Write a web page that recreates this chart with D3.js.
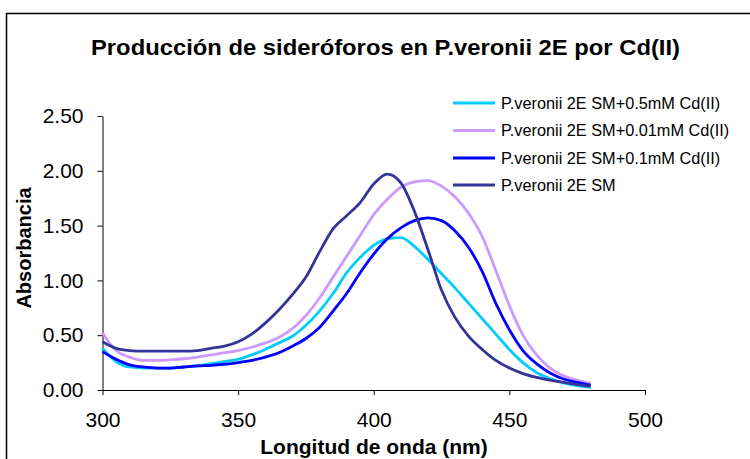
<!DOCTYPE html>
<html>
<head>
<meta charset="utf-8">
<script src="https://cdn.jsdelivr.net/npm/d3@7"></script>
<style>
  html, body { margin: 0; padding: 0; background: #fff; }
  svg { display: block; font-family: "Liberation Sans", Arial, sans-serif; }
</style>
</head>
<body>
<svg id="chart" width="750" height="459"></svg>
<script>
const wavelengths = [300,305,310,315,320,325,330,335,340,345,350,355,360,365,370,375,380,385,390,395,400,405,410,415,420,425,430,435,440,445,450,455,460,465,470,475,480];

const cd05 = [0.38,0.26,0.21,0.20,0.20,0.20,0.21,0.22,0.24,0.26,0.28,0.32,0.37,0.43,0.49,0.59,0.72,0.88,1.07,1.21,1.32,1.38,1.39,1.31,1.19,1.06,0.93,0.79,0.65,0.51,0.37,0.25,0.16,0.105,0.065,0.04,0.025];
const cd001 = [0.52,0.36,0.30,0.27,0.27,0.275,0.285,0.30,0.32,0.34,0.36,0.39,0.43,0.48,0.56,0.68,0.84,1.03,1.22,1.41,1.60,1.74,1.85,1.90,1.91,1.86,1.76,1.61,1.40,1.09,0.77,0.50,0.32,0.20,0.13,0.09,0.06];
const cd01 = [0.35,0.28,0.23,0.21,0.20,0.20,0.21,0.22,0.225,0.235,0.25,0.27,0.30,0.34,0.40,0.47,0.57,0.72,0.88,1.07,1.24,1.38,1.48,1.545,1.57,1.545,1.45,1.30,1.08,0.79,0.55,0.36,0.24,0.155,0.10,0.07,0.045];
const sm = [0.44,0.38,0.36,0.355,0.355,0.355,0.355,0.36,0.38,0.40,0.44,0.51,0.61,0.73,0.87,1.03,1.26,1.47,1.59,1.71,1.88,1.97,1.89,1.63,1.28,0.91,0.66,0.49,0.37,0.27,0.20,0.15,0.115,0.09,0.07,0.05,0.035];

const seriesNames = ["P.veronii 2E SM+0.5mM Cd(II)", "P.veronii 2E SM+0.01mM Cd(II)", "P.veronii 2E SM+0.1mM Cd(II)", "P.veronii 2E SM"];
const seriesColors = ["#00CCFF", "#CC99FF", "#0000FF", "#333399"];
const seriesValues = [cd05, cd001, cd01, sm];

const xTicks = [300, 350, 400, 450, 500];
const yTicks = [0, 0.5, 1.0, 1.5, 2.0, 2.5];

const titleText = "Producción de sideróforos en P.veronii 2E por Cd(II)";
const xTitle = "Longitud de onda (nm)";
const yTitle = "Absorbancia";

const svg = d3.select("#chart");

// outer chart border
svg.append("rect")
  .attr("x", 6.5).attr("y", 13.5)
  .attr("width", 800).attr("height", 500)
  .attr("fill", "none").attr("stroke", "#000").attr("stroke-width", 1.5);

const x = d3.scaleLinear().domain([300, 500]).range([102.5, 645]);
const y = d3.scaleLinear().domain([0, 2.5]).range([390, 116]);

// axes
const xAxis = d3.axisBottom(x).tickValues(xTicks).tickSize(5).tickPadding(17).tickSizeOuter(0).tickFormat(d3.format("d"));
const yAxis = d3.axisLeft(y).tickValues(yTicks).tickSize(5).tickPadding(14).tickSizeOuter(0).tickFormat(d3.format(".2f"));

const gx = svg.append("g").attr("transform", "translate(0,390)").call(xAxis);
const gy = svg.append("g").attr("transform", "translate(102.5,0)").call(yAxis);

[gx, gy].forEach(g => {
  g.selectAll("path.domain").attr("stroke", "#000").attr("stroke-width", 1);
  g.selectAll(".tick line").attr("stroke", "#000").attr("stroke-width", 1);
  g.selectAll(".tick text")
    .attr("font-family", "Liberation Sans, Arial, sans-serif")
    .attr("font-size", 21).attr("fill", "#000");
});

// lines
const line = d3.line()
  .x((d, i) => x(wavelengths[i]))
  .y(d => y(d))
  .curve(d3.curveMonotoneX);

seriesValues.forEach((vals, k) => {
  svg.append("path")
    .datum(vals)
    .attr("d", line)
    .attr("fill", "none")
    .attr("stroke", seriesColors[k])
    .attr("stroke-width", 2.8)
    .attr("stroke-linejoin", "round");
});

// title
svg.append("text")
  .attr("x", 385.5).attr("y", 55)
  .attr("text-anchor", "middle")
  .attr("font-size", 22).attr("font-weight", "bold")
  .attr("textLength", 589).attr("lengthAdjust", "spacingAndGlyphs")
  .text(titleText);

// axis titles
svg.append("text")
  .attr("x", 374).attr("y", 454)
  .attr("text-anchor", "middle")
  .attr("font-size", 21).attr("font-weight", "bold")
  .text(xTitle);

svg.append("text")
  .attr("transform", "translate(31,248) rotate(-90)")
  .attr("text-anchor", "middle")
  .attr("font-size", 20).attr("font-weight", "bold")
  .text(yTitle);

// legend
const legendY = [103, 130.5, 158, 185];
const lg = svg.append("g");
seriesNames.forEach((name, k) => {
  lg.append("line")
    .attr("x1", 453).attr("x2", 495)
    .attr("y1", legendY[k]).attr("y2", legendY[k])
    .attr("stroke", seriesColors[k]).attr("stroke-width", 3);
  lg.append("text")
    .attr("x", 501).attr("y", legendY[k])
    .attr("dy", "0.35em")
    .attr("font-size", 16.3)
    .text(name);
});
</script>
</body>
</html>
